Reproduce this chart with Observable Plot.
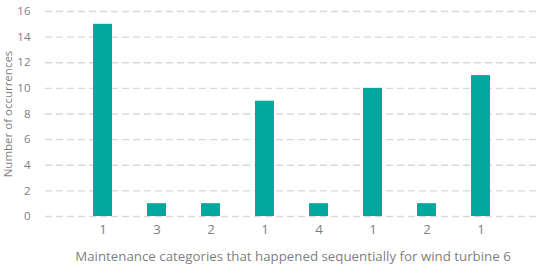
<!DOCTYPE html>
<html><head><meta charset="utf-8">
<script src="https://cdn.jsdelivr.net/npm/d3@7"></script>
<script src="https://cdn.jsdelivr.net/npm/@observablehq/plot@0.6"></script>
<style>body{margin:0;background:#fff;}</style>
</head><body><div id="chart"></div>
<script>
const categories = ["1","3","2","1","4","1","2","1"];
const occurrences = [15, 1, 1, 9, 1, 10, 1, 11];
const yTicks = [0, 2, 4, 6, 8, 10, 12, 14, 16];
const data = categories.map((c, i) => ({i, c, v: occurrences[i]}));
const font = "'Open Sans', sans-serif";
const chart = Plot.plot({
  width: 550, height: 267,
  marginTop: 11, marginBottom: 51, marginLeft: 45, marginRight: 10,
  style: {fontFamily: font, fontSize: "11.5px", color: "#7f7f7f", background: "#fff"},
  x: {type: "band", domain: d3.range(categories.length), paddingInner: 0.65, paddingOuter: 0.325, align: 0.5, insetLeft: 28, insetRight: 30},
  y: {domain: [0, 16]},
  marks: [
    Plot.ruleY(yTicks, {stroke: "#d9d9d9", strokeWidth: 1.3, strokeDasharray: "7,4"}),
    Plot.barY(data, {x: "i", y: "v", fill: "#00a89d"}),
    Plot.axisX({tickSize: 0, tickPadding: 8, tickFormat: i => categories[i], fill: "#7f7f7f",
      label: "Maintenance categories that happened sequentially for wind turbine 6", labelAnchor: "center", labelArrow: "none", labelOffset: 44, fontSize: 13.3}),
    Plot.axisY({ticks: yTicks, tickSize: 0, tickPadding: 15, fill: "#7f7f7f",
      label: "Number of occurrences", labelAnchor: "center", labelArrow: "none", labelOffset: 42, fontSize: 11.5})
  ]
});
document.getElementById("chart").appendChild(chart);
</script></body></html>
